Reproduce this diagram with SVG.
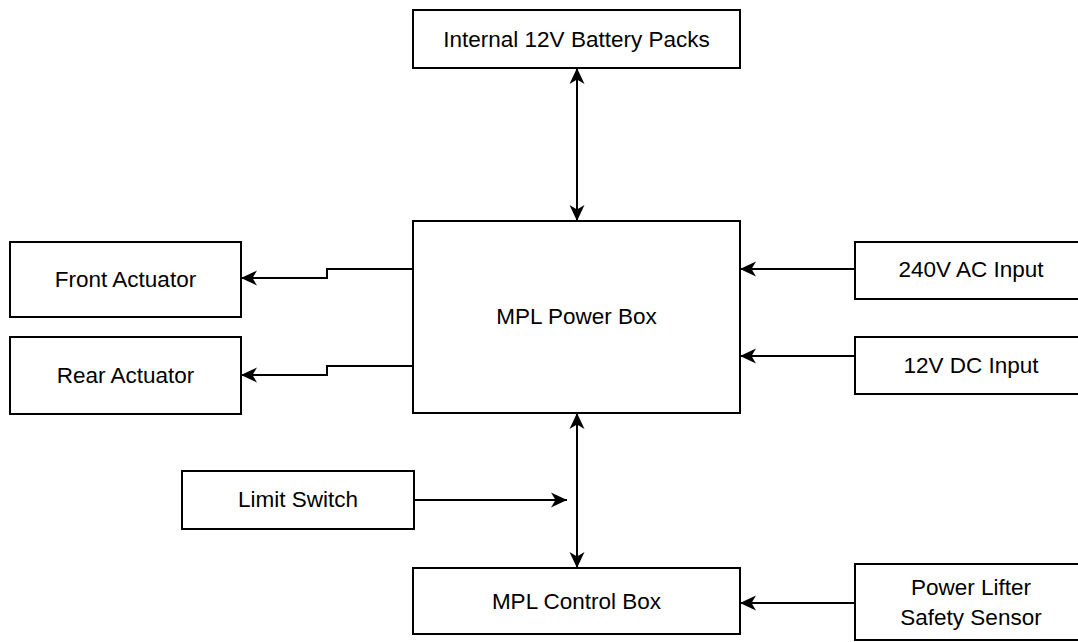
<svg xmlns="http://www.w3.org/2000/svg" width="1078" height="642" viewBox="0 0 1078 642">
<style>
.box{fill:#fff;stroke:#000;stroke-width:2}
.lbl{font-family:"Liberation Sans",Arial,sans-serif;font-size:22.5px;fill:#000;text-anchor:middle;dominant-baseline:central}
.con{fill:none;stroke:#000;stroke-width:2}
</style>
<defs>
<marker id="arr" markerUnits="userSpaceOnUse" viewBox="0 0 16 16" markerWidth="16" markerHeight="16" refX="16" refY="8" orient="auto-start-reverse">
<path d="M16,8 L0,0.5 L4.5,8 L0,15.5 Z" fill="#000"/>
</marker>
</defs>
<rect width="1078" height="642" fill="#fff"/>
<g id="connectors">
<line class="con" x1="577" y1="68" x2="577" y2="221" marker-start="url(#arr)" marker-end="url(#arr)"/>
<polyline class="con" points="413,269 327,269 327,278 241,278" marker-end="url(#arr)"/>
<polyline class="con" points="413,366 327,366 327,375 241,375" marker-end="url(#arr)"/>
<line class="con" x1="855" y1="269" x2="740" y2="269" marker-end="url(#arr)"/>
<line class="con" x1="855" y1="356" x2="740" y2="356" marker-end="url(#arr)"/>
<line class="con" x1="577" y1="413" x2="577" y2="568" marker-start="url(#arr)" marker-end="url(#arr)"/>
<line class="con" x1="414" y1="500" x2="567" y2="500" marker-end="url(#arr)"/>
<line class="con" x1="855" y1="603" x2="740" y2="603" marker-end="url(#arr)"/>
</g>
<g id="battery"><rect class="box" x="413" y="10" width="327" height="58"/><text class="lbl" x="576.5" y="39">Internal 12V Battery Packs</text></g>
<g id="powerbox"><rect class="box" x="413" y="221" width="327" height="192"/><text class="lbl" x="576.5" y="316">MPL Power Box</text></g>
<g id="front"><rect class="box" x="10" y="242" width="231" height="75"/><text class="lbl" x="125.5" y="279">Front Actuator</text></g>
<g id="rear"><rect class="box" x="10" y="337" width="231" height="77"/><text class="lbl" x="125.5" y="375">Rear Actuator</text></g>
<g id="ac"><rect class="box" x="855" y="242" width="232" height="57"/><text class="lbl" x="971" y="269">240V AC Input</text></g>
<g id="dc"><rect class="box" x="855" y="337" width="232" height="57"/><text class="lbl" x="971" y="365">12V DC Input</text></g>
<g id="limit"><rect class="box" x="182" y="471" width="232" height="58"/><text class="lbl" x="298" y="499">Limit Switch</text></g>
<g id="control"><rect class="box" x="413" y="568" width="327" height="66"/><text class="lbl" x="576.5" y="601">MPL Control Box</text></g>
<g id="sensor"><rect class="box" x="855" y="564" width="232" height="76"/><text class="lbl" x="971" y="587">Power Lifter</text><text class="lbl" x="971" y="617">Safety Sensor</text></g>
</svg>
